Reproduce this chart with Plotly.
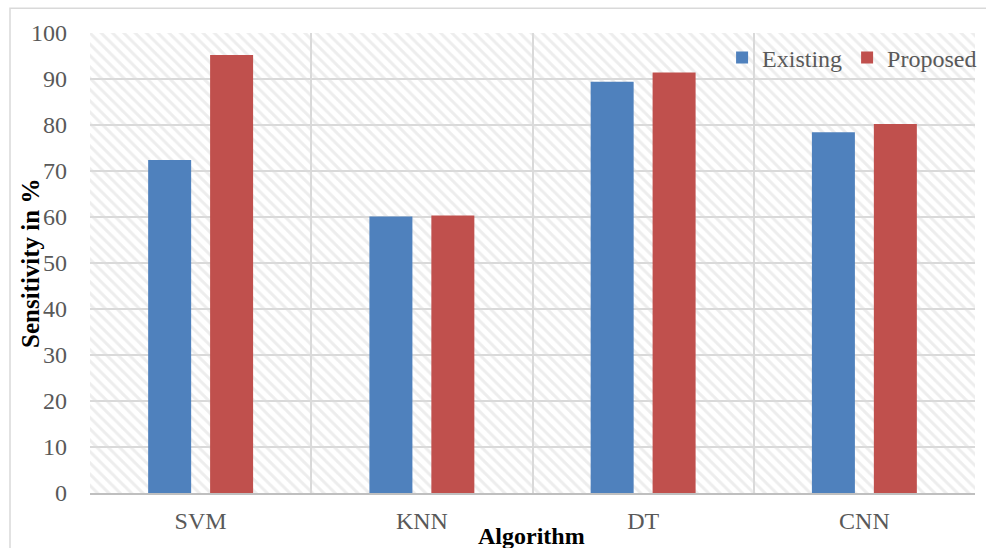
import plotly.graph_objects as go

categories = ["SVM", "KNN", "DT", "CNN"]
existing = [72.4, 60.1, 89.4, 78.4]
proposed = [95.2, 60.3, 91.4, 80.2]
series_names = ["Existing", "Proposed"]
y_ticks = list(range(0, 101, 10))

FONT = "Liberation Serif"
GRAY = "#595959"
GRID = "#d9d9d9"
FS = 24

xpos = list(range(len(categories)))

fig = go.Figure()

# background hatch covering the plot area (decoration)
fig.add_trace(go.Bar(
    x=[(len(categories) - 1) / 2], y=[100], width=[len(categories)],
    xaxis="x", yaxis="y",
    marker=dict(color="rgba(0,0,0,0)", line=dict(width=0),
                pattern=dict(shape="\\", fgcolor="#dcdcdc", size=8, solidity=0.38,
                             fillmode="overlay")),
    showlegend=False, hoverinfo="skip",
))

fig.add_trace(go.Bar(name=series_names[0], x=xpos, y=existing, xaxis="x2", yaxis="y",
                     marker=dict(color="#4F81BD", line=dict(width=0))))
fig.add_trace(go.Bar(name=series_names[1], x=xpos, y=proposed, xaxis="x2", yaxis="y",
                     marker=dict(color="#C0504D", line=dict(width=0))))

bounds = [i - 0.5 for i in range(len(categories) + 1)]
xr = [-0.5, len(categories) - 0.5]

fig.update_layout(
    width=986, height=548,
    margin=dict(l=90, r=11, t=33, b=55, autoexpand=False),
    paper_bgcolor="white", plot_bgcolor="white",
    barmode="group", bargap=0.44, bargroupgap=0.306,
    font=dict(family=FONT, size=FS, color=GRAY),
    xaxis=dict(range=xr, tickvals=bounds, showticklabels=False, showgrid=True,
               gridcolor=GRID, gridwidth=1.5, zeroline=False, ticks="",
               showline=True, linecolor="#bfbfbf", linewidth=1.5, mirror=False),
    xaxis2=dict(range=xr, overlaying="x", side="bottom", tickvals=xpos, ticktext=categories,
                showgrid=False, zeroline=False, ticks="", showline=False,
                tickfont=dict(family=FONT, size=FS, color=GRAY), ticklabelstandoff=11),
    yaxis=dict(range=[0, 100], tickvals=y_ticks, showgrid=True, gridcolor=GRID, gridwidth=1.5,
               zeroline=False, ticks="", showline=False,
               tickfont=dict(family=FONT, size=FS, color=GRAY), ticklabelstandoff=22),
    legend=dict(orientation="h", x=1.008, xanchor="right", y=0.9457, yanchor="middle",
                bgcolor="rgba(0,0,0,0)", font=dict(family=FONT, size=FS, color=GRAY),
                traceorder="normal"),
    annotations=[
        dict(text="<b>Algorithm</b>", xref="paper", yref="paper", x=0.4994, y=-0.094,
             xanchor="center", yanchor="middle", showarrow=False,
             font=dict(family=FONT, size=FS, color="black")),
        dict(text="<b>Sensitivity in %</b>", xref="paper", yref="paper", x=-0.0678, y=0.5,
             xanchor="center", yanchor="middle", textangle=-90, showarrow=False,
             font=dict(family=FONT, size=25, color="black")),
    ],
    shapes=[
        dict(type="rect", xref="paper", yref="paper", x0=-0.0904, y0=-0.3, x1=1.2, y1=1.054,
             line=dict(color="#d9d9d9", width=1.5), fillcolor="rgba(0,0,0,0)", layer="below"),
    ],
)

fig.write_html("out.html")
